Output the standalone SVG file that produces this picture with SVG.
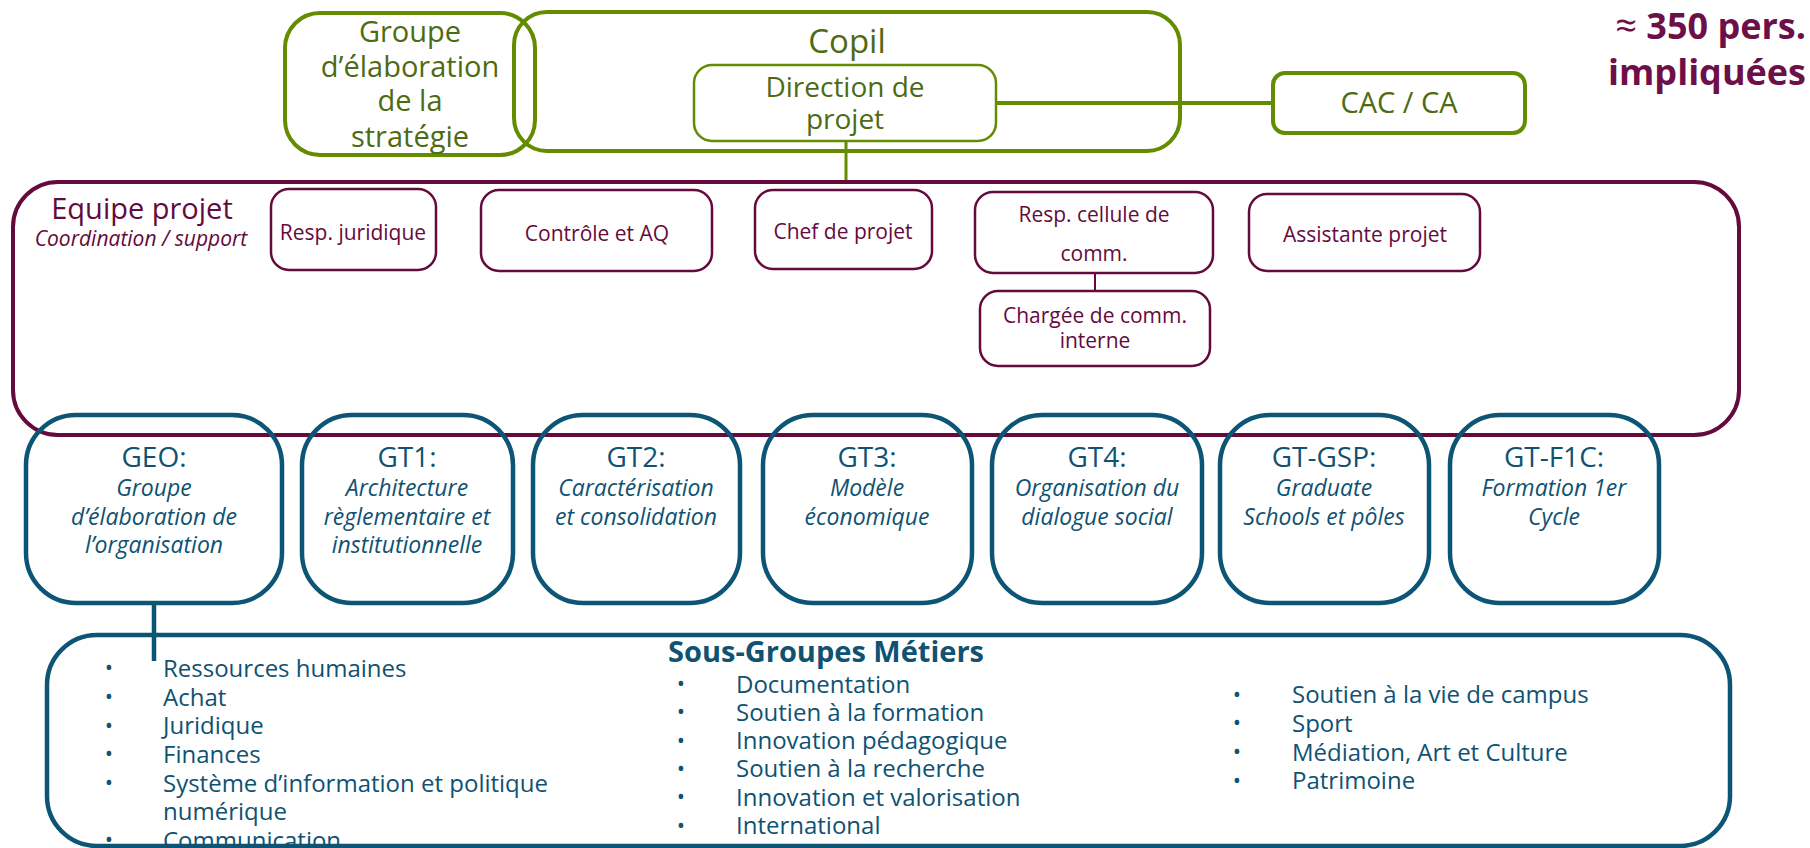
<svg xmlns="http://www.w3.org/2000/svg" width="1810" height="848" viewBox="0 0 1810 848">
  <style>
    text { font-family: "Open Sans", "Liberation Sans", sans-serif; }
    .g-box { fill: none; stroke: #648c00; stroke-width: 4; }
    .g-thin { fill: none; stroke: #648c00; stroke-width: 2.5; }
    .g-txt { fill: #4e6b14; text-anchor: middle; }
    .m-box { fill: none; stroke: #650a3c; stroke-width: 4; }
    .m-thin { fill: none; stroke: #650a3c; stroke-width: 2.5; }
    .m-txt { fill: #650a3c; text-anchor: middle; font-size: 21px; }
    .b-box { fill: none; stroke: #0d5575; stroke-width: 4.5; }
    .b-title { fill: #0f5272; text-anchor: middle; font-size: 28px; }
    .b-it { fill: #0f5272; text-anchor: middle; font-size: 23px; font-style: italic; }
    .li { fill: #0f5272; font-size: 24px; }
    .bul { fill: #0f5272; font-size: 22px; text-anchor: middle; }
  </style>

  <!-- connectors -->
  <g id="connectors">
    <line x1="996" y1="103" x2="1273" y2="103" stroke="#648c00" stroke-width="4"/>
    <line x1="846" y1="141" x2="846" y2="182" stroke="#648c00" stroke-width="3"/>
    <line x1="1095" y1="273" x2="1095" y2="291" stroke="#650a3c" stroke-width="2"/>
    <line x1="154" y1="603" x2="154" y2="661" stroke="#0d5575" stroke-width="4.5"/>
  </g>

  <!-- top governance -->
  <g id="groupe-strategie">
    <rect class="g-box" x="285" y="13" width="250" height="142" rx="35"/>
    <text class="g-txt" font-size="29" x="410" y="42">Groupe</text>
    <text class="g-txt" font-size="29" x="410" y="77">d’élaboration</text>
    <text class="g-txt" font-size="29" x="410" y="111">de la</text>
    <text class="g-txt" font-size="29" x="410" y="147">stratégie</text>
  </g>
  <g id="copil">
    <rect class="g-box" x="514" y="12" width="666" height="139" rx="33"/>
    <text class="g-txt" font-size="33" x="847" y="53">Copil</text>
  </g>
  <g id="direction-projet">
    <rect class="g-thin" x="694" y="65" width="302" height="76" rx="18"/>
    <text class="g-txt" font-size="28" x="845" y="97">Direction de</text>
    <text class="g-txt" font-size="28" x="845" y="129">projet</text>
  </g>
  <g id="cac-ca">
    <rect class="g-box" x="1273" y="73" width="252" height="60" rx="12"/>
    <text class="g-txt" font-size="29" x="1399" y="113">CAC / CA</text>
  </g>
  <g id="participants">
    <text x="1806" y="39" text-anchor="end" fill="#6d1049" font-size="36" font-weight="bold"><tspan font-weight="normal" font-size="38">≈</tspan> 350 pers.</text>
    <text x="1806" y="85" text-anchor="end" fill="#6d1049" font-size="36" font-weight="bold">impliquées</text>
  </g>

  <!-- project team -->
  <g id="equipe-projet">
    <rect class="m-box" x="13" y="182" width="1726" height="253" rx="45"/>
    <text x="142" y="219" fill="#650a3c" text-anchor="middle" font-size="29">Equipe projet</text>
    <text x="141" y="246" fill="#650a3c" text-anchor="middle" font-size="21" font-style="italic">Coordination / support</text>
  </g>
  <g id="resp-juridique">
    <rect class="m-thin" x="271" y="189" width="165" height="81" rx="18"/>
    <text class="m-txt" x="353" y="240">Resp. juridique</text>
  </g>
  <g id="controle-aq">
    <rect class="m-thin" x="481" y="190" width="231" height="81" rx="18"/>
    <text class="m-txt" x="597" y="241">Contrôle et AQ</text>
  </g>
  <g id="chef-projet">
    <rect class="m-thin" x="755" y="190" width="177" height="79" rx="18"/>
    <text class="m-txt" x="843" y="239">Chef de projet</text>
  </g>
  <g id="resp-comm">
    <rect class="m-thin" x="975" y="192" width="238" height="81" rx="18"/>
    <text class="m-txt" x="1094" y="222">Resp. cellule de</text>
    <text class="m-txt" x="1094" y="261">comm.</text>
  </g>
  <g id="chargee-comm">
    <rect class="m-thin" x="980" y="291" width="230" height="75" rx="18"/>
    <text class="m-txt" x="1095" y="323">Chargée de comm.</text>
    <text class="m-txt" x="1095" y="348">interne</text>
  </g>
  <g id="assistante-projet">
    <rect class="m-thin" x="1249" y="194" width="231" height="77" rx="18"/>
    <text class="m-txt" x="1365" y="242">Assistante projet</text>
  </g>

  <!-- working groups -->
  <g id="geo">
    <rect class="b-box" x="26" y="415" width="256" height="188" rx="50"/>
    <text class="b-title" x="154" y="467">GEO:</text>
    <text class="b-it" x="154" y="496">Groupe</text>
    <text class="b-it" x="154" y="525">d’élaboration de</text>
    <text class="b-it" x="154" y="553">l’organisation</text>
  </g>
  <g id="gt1">
    <rect class="b-box" x="302" y="415" width="211" height="188" rx="50"/>
    <text class="b-title" x="407" y="467">GT1:</text>
    <text class="b-it" x="407" y="496">Architecture</text>
    <text class="b-it" x="407" y="525">règlementaire et</text>
    <text class="b-it" x="407" y="553">institutionnelle</text>
  </g>
  <g id="gt2">
    <rect class="b-box" x="533" y="415" width="207" height="188" rx="50"/>
    <text class="b-title" x="636" y="467">GT2:</text>
    <text class="b-it" x="636" y="496">Caractérisation</text>
    <text class="b-it" x="636" y="525">et consolidation</text>
  </g>
  <g id="gt3">
    <rect class="b-box" x="763" y="415" width="209" height="188" rx="50"/>
    <text class="b-title" x="867" y="467">GT3:</text>
    <text class="b-it" x="867" y="496">Modèle</text>
    <text class="b-it" x="867" y="525">économique</text>
  </g>
  <g id="gt4">
    <rect class="b-box" x="992" y="415" width="210" height="188" rx="50"/>
    <text class="b-title" x="1097" y="467">GT4:</text>
    <text class="b-it" x="1097" y="496">Organisation du</text>
    <text class="b-it" x="1097" y="525">dialogue social</text>
  </g>
  <g id="gt-gsp">
    <rect class="b-box" x="1220" y="415" width="209" height="188" rx="50"/>
    <text class="b-title" x="1324" y="467">GT-GSP:</text>
    <text class="b-it" x="1324" y="496">Graduate</text>
    <text class="b-it" x="1324" y="525">Schools et pôles</text>
  </g>
  <g id="gt-f1c">
    <rect class="b-box" x="1450" y="415" width="209" height="188" rx="50"/>
    <text class="b-title" x="1554" y="467">GT-F1C:</text>
    <text class="b-it" x="1554" y="496">Formation 1er</text>
    <text class="b-it" x="1554" y="525">Cycle</text>
  </g>

  <!-- business sub-groups -->
  <g id="sous-groupes">
    <rect class="b-box" x="47" y="635" width="1683" height="211" rx="50"/>
    <text x="668" y="662" fill="#0f5272" font-size="29" font-weight="bold">Sous-Groupes Métiers</text>

    <g class="bul">
      <text x="109" y="675">•</text>
      <text x="109" y="704">•</text>
      <text x="109" y="733">•</text>
      <text x="109" y="761">•</text>
      <text x="109" y="790">•</text>
      <text x="109" y="847">•</text>
      <text x="681" y="691">•</text>
      <text x="681" y="719">•</text>
      <text x="681" y="748">•</text>
      <text x="681" y="776">•</text>
      <text x="681" y="804">•</text>
      <text x="681" y="833">•</text>
      <text x="1237" y="702">•</text>
      <text x="1237" y="730">•</text>
      <text x="1237" y="759">•</text>
      <text x="1237" y="788">•</text>
    </g>

    <text class="li" x="163" y="677">Ressources humaines</text>
    <text class="li" x="163" y="706">Achat</text>
    <text class="li" x="163" y="734">Juridique</text>
    <text class="li" x="163" y="763">Finances</text>
    <text class="li" x="163" y="792">Système d’information et politique</text>
    <text class="li" x="163" y="820">numérique</text>
    <text class="li" x="163" y="849">Communication</text>

    <text class="li" x="736" y="693">Documentation</text>
    <text class="li" x="736" y="721">Soutien à la formation</text>
    <text class="li" x="736" y="749">Innovation pédagogique</text>
    <text class="li" x="736" y="777">Soutien à la recherche</text>
    <text class="li" x="736" y="806">Innovation et valorisation</text>
    <text class="li" x="736" y="834">International</text>

    <text class="li" x="1292" y="703">Soutien à la vie de campus</text>
    <text class="li" x="1292" y="732">Sport</text>
    <text class="li" x="1292" y="761">Médiation, Art et Culture</text>
    <text class="li" x="1292" y="789">Patrimoine</text>
  </g>
</svg>
